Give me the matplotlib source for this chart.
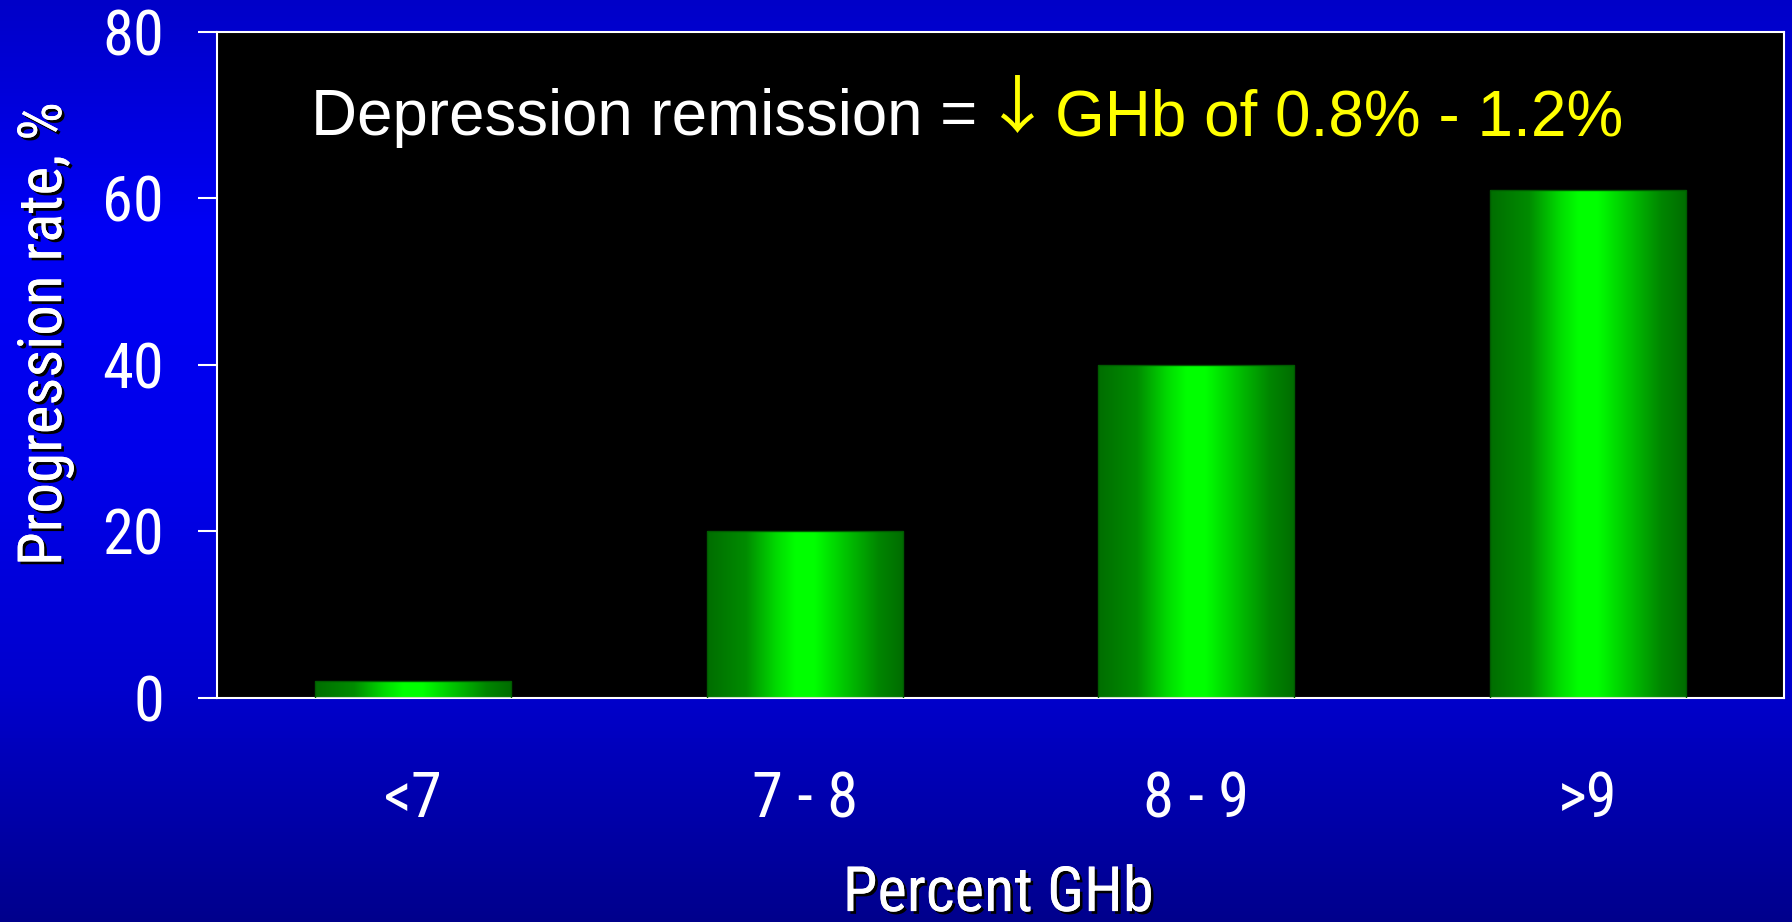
import numpy as np
import matplotlib
matplotlib.use("Agg")
import matplotlib.pyplot as plt
import matplotlib.patheffects as pe
from matplotlib.colors import LinearSegmentedColormap
from matplotlib.textpath import TextPath
from matplotlib.font_manager import FontProperties
from matplotlib.patches import PathPatch
from matplotlib.transforms import Affine2D

# ---- data ----
categories = ["<7", "7 - 8", "8 - 9", ">9"]
progression = [2, 20, 40, 61]
yticks = [0, 20, 40, 60, 80]

note_white = "Depression remission ="
note_arrow = "\u2193"
note_yellow = "GHb of 0.8% - 1.2%"

NARROW = ["Roboto Condensed", "Archivo Narrow", "DejaVu Sans"]
REGULAR = ["Liberation Sans", "DejaVu Sans"]
FS = 45

fig = plt.figure(figsize=(17.92, 9.22), dpi=100)

# slide background: vertical blue gradient
bg = fig.add_axes([0, 0, 1, 1], zorder=-10)
bg_cmap = LinearSegmentedColormap.from_list(
    "slide", [(0.0, (0, 0, 200 / 255)), (0.25, (0, 0, 245 / 255)),
              (0.5, (0, 0, 235 / 255)), (0.75, (0, 0, 205 / 255)),
              (1.0, (0, 0, 140 / 255))])
bg.imshow(np.linspace(0, 1, 256).reshape(-1, 1), aspect="auto", cmap=bg_cmap,
          extent=[0, 1, 0, 1])
bg.set_axis_off()

ax = fig.add_axes([0.1211, 0.2430, 0.9955 - 0.1211, 0.9653 - 0.2430])
ax.set_facecolor("black")

x = np.arange(len(categories))
bars = ax.bar(x, progression, width=0.5, facecolor="none", edgecolor="#005a00",
              linewidth=1, zorder=3)

# cylinder-like horizontal shading for each bar
bar_cmap = LinearSegmentedColormap.from_list(
    "cyl", [(0.0, (0, 0.43, 0)), (0.2, (0, 0.55, 0)), (0.35, (0, 0.85, 0)),
            (0.45, (0, 1, 0)), (0.55, (0, 1, 0)), (0.72, (0, 0.75, 0)),
            (0.88, (0, 0.52, 0)), (1.0, (0, 0.43, 0))])
grad = np.linspace(0, 1, 256).reshape(1, -1)
for b in bars:
    x0, y0 = b.get_x(), b.get_y()
    im = ax.imshow(grad, cmap=bar_cmap, aspect="auto", zorder=2,
                   extent=[x0, x0 + b.get_width(), y0, y0 + b.get_height()])
    im.set_clip_path(b)

ax.set_xlim(-0.5, 3.5)
ax.set_ylim(0, 80)
ax.set_yticks(yticks)
ax.set_xticks(x)
ax.set_xticklabels(categories)

for s in ax.spines.values():
    s.set_color("white")
    s.set_linewidth(1.5)

ax.tick_params(axis="y", colors="white", length=14, width=1.5, pad=24,
               labelsize=FS)
ax.tick_params(axis="x", colors="white", length=0, pad=52, labelsize=FS)
for lab in ax.get_xticklabels() + ax.get_yticklabels():
    lab.set_family(NARROW)

shadow = [pe.withSimplePatchShadow(offset=(2, -2), shadow_rgbFace="black",
                                   alpha=1.0), pe.Normal()]

ax.set_ylabel("Progression rate, %", color="white", fontsize=44, family=NARROW,
              path_effects=shadow)
ax.yaxis.set_label_coords(-0.110, 0.5465)
ax.yaxis.label.set_va("center")

ax.set_xlabel("Percent GHb", color="white", fontsize=FS, family=NARROW,
              path_effects=shadow)
ax.xaxis.set_label_coords(0.4985, -0.320)
ax.xaxis.label.set_va("baseline")

# note inside the plot: white text, thin yellow arrow, yellow text
y_note = 0.845
ax.text(0.060, y_note, note_white, transform=ax.transAxes, color="white",
        fontsize=45.8, family=REGULAR, va="baseline", ha="left")
ax.text(0.5348, y_note, note_yellow, transform=ax.transAxes, color="#ffff00",
        fontsize=46, family=REGULAR, va="baseline", ha="left")

arrow = TextPath((0, 0), note_arrow, size=1,
                 prop=FontProperties(family="Noto Sans CJK SC"))
ext = arrow.get_extents()
ax_x0, ax_x1, ax_y0, ax_y1 = 0.5003, 0.5214, 0.8483, 0.9354
place = (Affine2D().translate(-ext.x0, -ext.y0)
         .scale((ax_x1 - ax_x0) / ext.width, (ax_y1 - ax_y0) / ext.height)
         .translate(ax_x0, ax_y0))
ax.add_patch(PathPatch(arrow, transform=place + ax.transAxes,
                       facecolor="#ffff00", edgecolor="none", zorder=4))

fig.savefig("out.png", dpi=100, facecolor=fig.get_facecolor())
